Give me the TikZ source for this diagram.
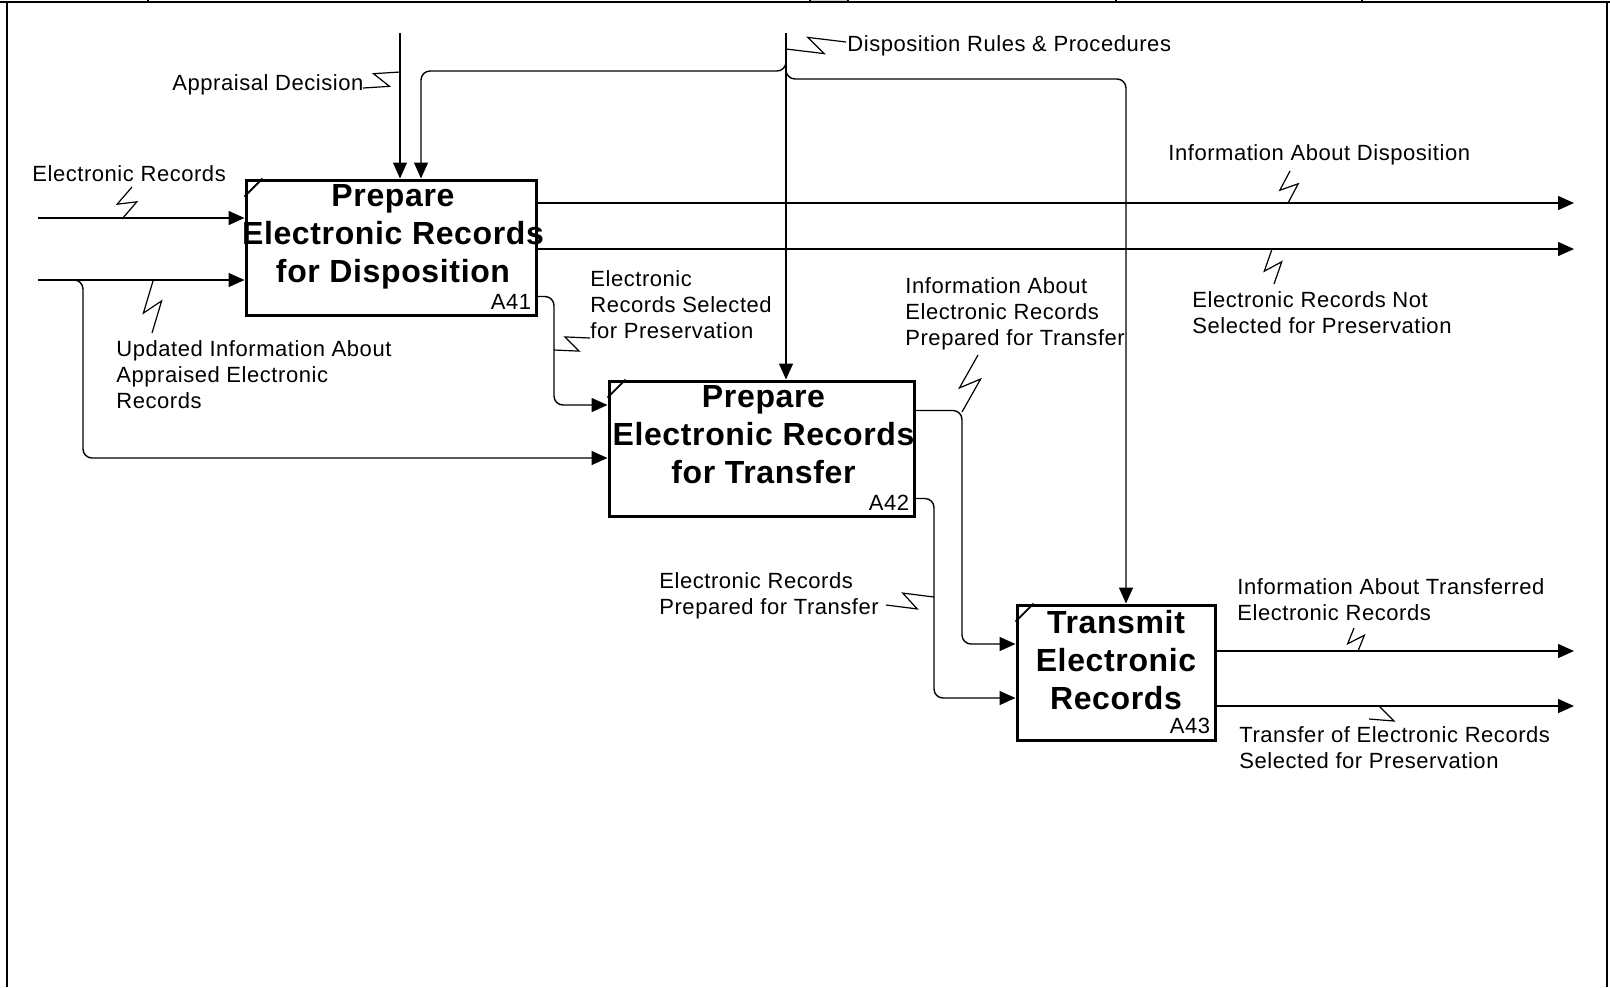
\documentclass[tikz,border=0pt]{standalone}
\usepackage{xcolor}
\usepackage{fontspec}
\usepackage{tikz}
\usetikzlibrary{calc,arrows.meta}
\newfontfamily\lblfont{Liberation Sans}[LetterSpace=2.5]
\newfontfamily\ttlfont{Liberation Sans}[LetterSpace=2]
\definecolor{ink}{HTML}{000000}
\definecolor{paper}{HTML}{FFFFFF}
\definecolor{cellgray}{HTML}{D4D4D4}
\tikzset{
  actbox/.style={draw=ink, line width=1.5pt, minimum height=67.5pt, inner sep=0pt},
  ttl/.style={font=\ttlfont\bfseries\fontsize{16}{19}\selectfont, align=center, inner sep=0pt, anchor=north},
  lbl/.style={font=\lblfont\fontsize{11}{13}\selectfont, align=left, inner sep=0pt, anchor=north west},
  num/.style={font=\lblfont\fontsize{11}{13}\selectfont, inner sep=0pt, anchor=south east},
  flow/.style={draw=ink, line width=0.7pt, -{Triangle[length=8pt,width=7pt]}, rounded corners=4.5pt},
  zig/.style={draw=ink, line width=0.6pt},
  sheet/.style={draw=ink, line width=0.85pt},
  cornermark/.style={draw=ink, line width=0.9pt}
}
\newcommand{\squig}[2]{\draw[zig] (#1) -- ($(#1)!0.62!(#2)!4.5pt!-90:(#2)$) -- ($(#1)!0.38!(#2)!4.5pt!90:(#2)$) -- (#2);}

\begin{document}
\begin{tikzpicture}[x=0.5pt,y=-0.5pt]
  \useasboundingbox (0,0) rectangle (1610,987);
  \fill[paper] (0,0) rectangle (1610,987);

  % sheet border (cut header)
  \fill[cellgray] (811,0) rectangle (847,1.6);
  \draw[sheet] (0,2) -- (1610,2);
  \foreach \tx in {148,810,848,1116,1362} \draw[sheet] (\tx,0) -- (\tx,2);
  \draw[sheet] (7,2) -- (7,987);
  \draw[sheet] (1607,2) -- (1607,987);

  % activity boxes
  \node[actbox, minimum width=145pt] (A41) at (391,247.5) {};
  \node[actbox, minimum width=152.5pt] (A42) at (761.5,448.5) {};
  \node[actbox, minimum width=99pt] (A43) at (1116,672.5) {};
  \foreach \b in {A41,A42,A43}
    \draw[cornermark] ($(\b.north west)+(0,18)$) -- ($(\b.north west)+(18,0)$);

  \node[ttl] (t41) at ($(A41.north)+(2,6)$) {Prepare\\Electronic Records\\for Disposition};
  \node[ttl] (t42) at ($(A42.north)+(2,6)$) {Prepare\\Electronic Records\\for Transfer};
  \node[ttl] (t43) at ($(A43.north)+(0,6)$) {Transmit\\Electronic\\Records};
  \node[num] (n41) at ($(A41.south east)+(-6,-7)$) {A41};
  \node[num] (n42) at ($(A42.south east)+(-6,-7)$) {A42};
  \node[num] (n43) at ($(A43.south east)+(-6,-7)$) {A43};

  % free ends and bends
  \coordinate (inER) at (38,218);
  \coordinate (inUpd) at (38,280);
  \coordinate (updB) at (83,458);
  \coordinate (ctlApp) at (400,33);
  \coordinate (ctlDisp) at (786,33);
  \coordinate (dspL) at (421,71);
  \coordinate (dspR) at (1126,79);
  \coordinate (outDisp) at (1574,203);
  \coordinate (outNot) at (1574,249);
  \coordinate (selS) at ($(A41.south east)+(0,-20)$);
  \coordinate (selB) at (554,405);
  \coordinate (infS) at ($(A42.north east)+(0,31)$);
  \coordinate (infB) at (962,644);
  \coordinate (prpS) at ($(A42.south east)+(0,-19)$);
  \coordinate (prpB) at (934,698);
  \coordinate (outTrI) at (1574,651);
  \coordinate (outTrS) at (1574,706);

  % inputs and controls
  \draw[flow] (inER) -- (inER -| A41.west);
  \draw[flow] (inUpd) -- (inUpd -| A41.west);
  \draw[flow] ($(updB |- inUpd)+(-12,0)$) -- (updB |- inUpd) -- (updB) -- (updB -| A42.west);
  \draw[flow] (ctlApp) -- (ctlApp |- A41.north);
  \draw[flow] (ctlDisp) -- (ctlDisp |- A42.north);
  \draw[flow] ($(ctlDisp)+(0,27)$) -- (ctlDisp |- dspL) -- (dspL) -- (dspL |- A41.north);
  \draw[flow] ($(ctlDisp)+(0,29)$) -- (ctlDisp |- dspR) -- (dspR) -- (dspR |- A43.north);

  % outputs
  \draw[flow] (outDisp -| A41.east) -- (outDisp);
  \draw[flow] (outNot -| A41.east) -- (outNot);
  \draw[flow] (selS) -- (selB |- selS) -- (selB) -- (selB -| A42.west);
  \draw[flow] (infS) -- (infB |- infS) -- (infB) -- (infB -| A43.west);
  \draw[flow] (prpS) -- (prpB |- prpS) -- (prpB) -- (prpB -| A43.west);
  \draw[flow] (outTrI -| A43.east) -- (outTrI);
  \draw[flow] (outTrS -| A43.east) -- (outTrS);

  % squiggles
  \squig{122,219}{132,187}
  \squig{153,281}{152,333}
  \squig{363,88}{400,72}
  \squig{786,49}{846,42}
  \squig{1288,203}{1290,171}
  \squig{1272,249}{1274,284}
  \squig{554,350}{590,338}
  \squig{962,412}{978,355}
  \squig{886,605}{934,597}
  \squig{1358,651}{1354,628}
  \draw[zig] (1379,706) -- ++(15,15) -- ++(-25,-2);

  % arrow labels
  \node[lbl] (lER) at (32,165) {Electronic Records};
  \node[lbl] (lApp) at (172,74) {Appraisal Decision};
  \node[lbl] (lUpd) at (116,340) {Updated Information About\\Appraised Electronic\\Records};
  \node[lbl] (lDisp) at (847,35) {Disposition Rules \& Procedures};
  \node[lbl] (lInfD) at (1168,144) {Information About Disposition};
  \node[lbl] (lNot) at (1192,291) {Electronic Records Not\\Selected for Preservation};
  \node[lbl] (lSel) at (590,270) {Electronic\\Records Selected\\for Preservation};
  \node[lbl] (lInfP) at (905,277) {Information About\\Electronic Records\\Prepared for Transfer};
  \node[lbl] (lPrp) at (659,572) {Electronic Records\\Prepared for Transfer};
  \node[lbl] (lInfT) at (1237,578) {Information About Transferred\\Electronic Records};
  \node[lbl] (lTrS) at (1239,726) {Transfer of Electronic Records\\Selected for Preservation};
\end{tikzpicture}
\end{document}
